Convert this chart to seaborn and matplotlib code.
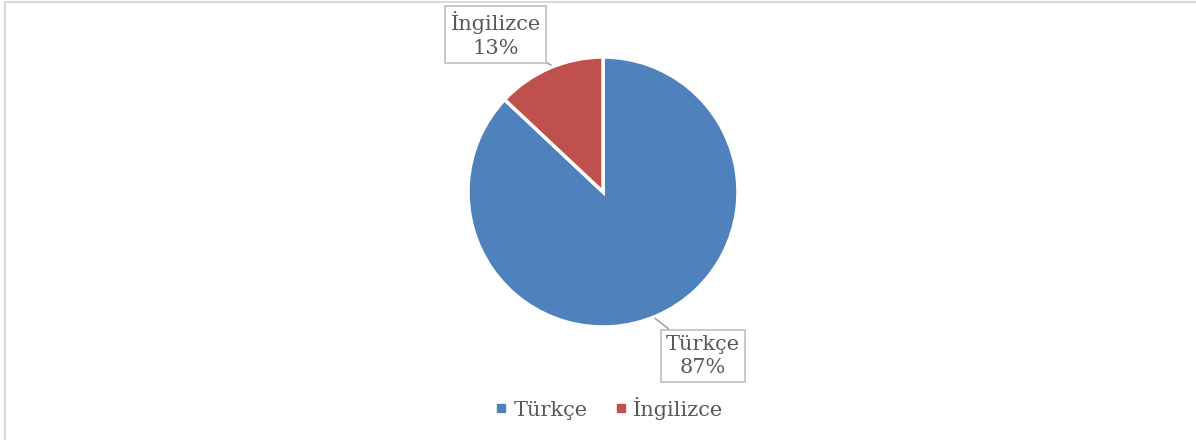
import matplotlib
matplotlib.use("Agg")
import matplotlib.pyplot as plt
import seaborn as sns
from matplotlib.lines import Line2D

languages = ['Türkçe', 'İngilizce']
shares = [87, 13]
colors = ['#4F81BD', '#C0504D']

sns.set_style('white')
plt.rcParams['font.family'] = ['DejaVu Serif', 'DejaVu Sans']

fig = plt.figure(figsize=(11.96, 4.4), dpi=100)
# pie centre at (603, 192) px, radius 135 px
ax = fig.add_axes([468 / 1196, 113 / 440, 270 / 1196, 270 / 440])

wedges, _ = ax.pie(shares, colors=colors, startangle=90, counterclock=False,
                   radius=1, wedgeprops=dict(edgecolor='white', linewidth=2.5))
ax.set_xlim(-1, 1)
ax.set_ylim(-1, 1)
ax.set_aspect('equal')
ax.axis('off')

# data labels with leader lines
label_pos = {'Türkçe': ((0.385, -0.935), (0.74, -1.215)),
             'İngilizce': ((-0.385, 0.94), (-0.795, 1.165))}
for lang, val in zip(languages, shares):
    pt, txt = label_pos[lang]
    ax.annotate(f'{lang}\n{val}%', xy=pt, xytext=txt, ha='center', va='center',
                fontsize=15, color='#595959', linespacing=1.3,
                bbox=dict(boxstyle='square,pad=0.25', fc='white', ec='#BFBFBF', lw=1.2),
                arrowprops=dict(arrowstyle='-', color='#A6A6A6', lw=1.2,
                                shrinkA=0, shrinkB=0))

handles = [Line2D([], [], marker='s', linestyle='none', markersize=6,
                  markerfacecolor=c, markeredgecolor=c) for c in colors]
fig.legend(handles, languages, loc='center', bbox_to_anchor=(608 / 1196, 32 / 440),
           ncol=2, frameon=False, fontsize=15, labelcolor='#595959',
           handletextpad=0.2, columnspacing=1.2, handlelength=0.8)

# chart-area border (left and top edges only visible)
fig.add_artist(Line2D([5 / 1196, 5 / 1196], [0, 1 - 2 / 440], color='#D9D9D9',
                      lw=1.5, transform=fig.transFigure))
fig.add_artist(Line2D([5 / 1196, 1], [1 - 2 / 440, 1 - 2 / 440], color='#D9D9D9',
                      lw=1.5, transform=fig.transFigure))

fig.savefig('out.png', dpi=100)
